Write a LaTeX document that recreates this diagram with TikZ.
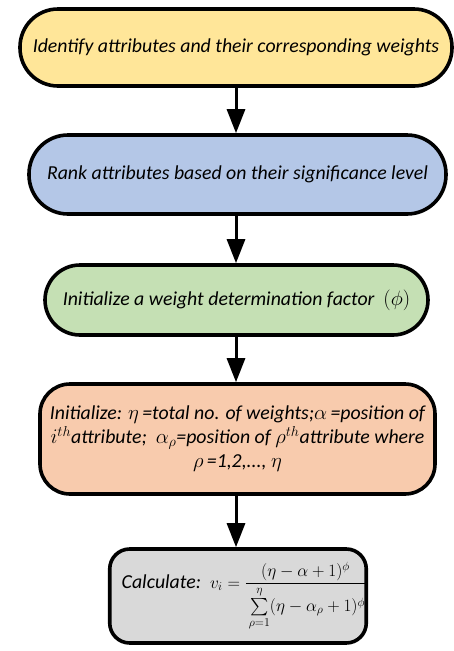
\documentclass[tikz,border=0pt]{standalone}
\usepackage{fontspec}
\setmainfont{Carlito}
\usepackage{amsmath}
\usetikzlibrary{arrows.meta}
\definecolor{cyellow}{HTML}{FFE699}
\definecolor{cblue}{HTML}{B4C7E7}
\definecolor{cgreen}{HTML}{C5E0B4}
\definecolor{corange}{HTML}{F8CBAD}
\definecolor{cgray}{HTML}{D9D9D9}
\begin{document}
\begin{tikzpicture}[x=1pt,y=-1pt,
  box/.style={draw=black,line width=3.6pt,rectangle,inner sep=0pt,
    font=\fontsize{19.8}{24}\selectfont\itshape},
  flow/.style={line width=3pt,-{Triangle[length=24pt,width=18pt]}}]
\useasboundingbox (0,0) rectangle (454,651);
\node[box,fill=cyellow,minimum width=432pt,minimum height=77pt,rounded corners=38pt] (b1) at (236,47.5)
  {Identify attributes and their corresponding weights};
\node[box,fill=cblue,minimum width=417pt,minimum height=79pt,rounded corners=39pt] (b2) at (237.5,174.5)
  {Rank attributes based on their significance level};
\node[box,fill=cgreen,minimum width=383pt,minimum height=70pt,rounded corners=35pt] (b3) at (236.5,300)
  {Initialize a weight determination factor~~{\fontsize{22}{24}\selectfont$(\phi)$}};
\node[box,fill=corange,minimum width=395pt,minimum height=110pt,rounded corners=30pt,align=center] (b4) at (237.5,439)
  {Initialize: $\eta$\,=total no. of weights;$\alpha$\,=position of\\
   $i^{th}$attribute;~~$\alpha_\rho$=position of $\rho^{th}$attribute where\hspace*{44pt}\\
   $\rho$\,=1,2,..., $\eta$};
\node[box,fill=cgray,minimum width=256pt,minimum height=94pt,rounded corners=20pt] (b5) at (238,596)
  {\hspace*{12pt}Calculate:~~{\fontsize{16.5}{20}\selectfont$v_i=\dfrac{(\eta-\alpha+1)^{\phi}}{\rule{0pt}{25pt}\sum\limits_{\rho=1}^{\eta}(\eta-\alpha_\rho+1)^{\phi}}$}};
\draw[flow] (b1.south) -- (b1.south |- b2.north);
\draw[flow] (b1.south |- b2.south) -- (b1.south |- b3.north);
\draw[flow] (b1.south |- b3.south) -- (b1.south |- b4.north);
\draw[flow] (b1.south |- b4.south) -- (b1.south |- b5.north);
\end{tikzpicture}
\end{document}
